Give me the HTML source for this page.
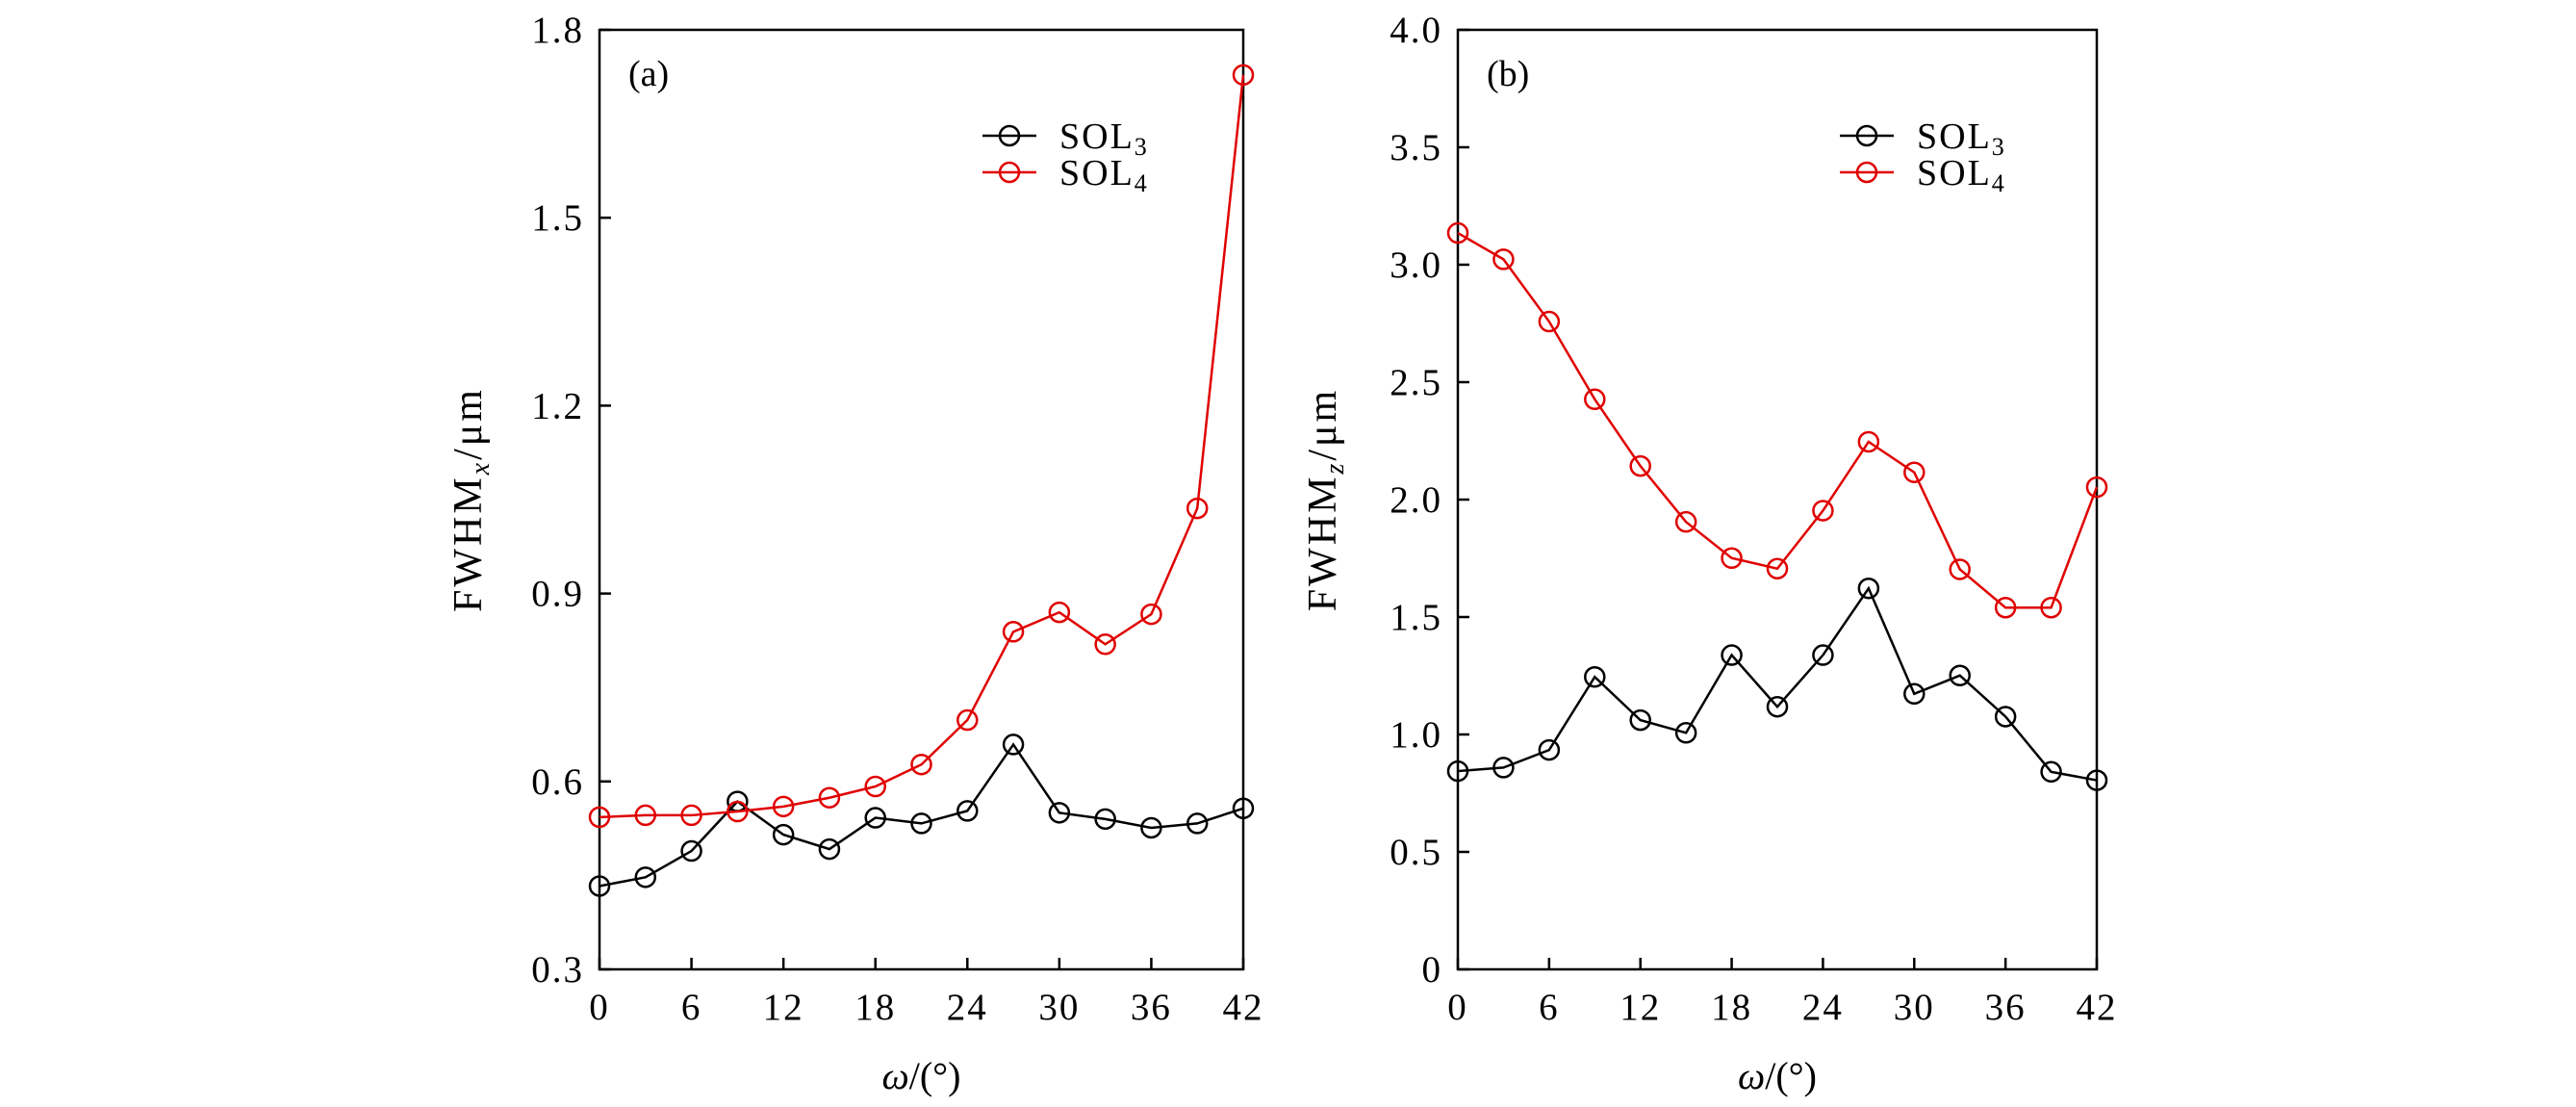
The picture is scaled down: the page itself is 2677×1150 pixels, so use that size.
<!DOCTYPE html>
<html><head><meta charset="utf-8"><style>
html,body{margin:0;padding:0;background:#fff;}
svg{display:block;font-family:"Liberation Serif",serif;}
</style></head><body>
<svg id="chart" width="2677" height="1150" viewBox="0 0 2677 1150" xmlns="http://www.w3.org/2000/svg"></svg>
<script>
const xCats = [0,3,6,9,12,15,18,21,24,27,30,33,36,39,42];
const xTicks = [0,6,12,18,24,30,36,42];
const aSol3 = [0.433,0.447,0.489,0.568,0.515,0.492,0.542,0.533,0.553,0.659,0.550,0.540,0.526,0.533,0.557];
const aSol4 = [0.543,0.546,0.546,0.552,0.560,0.574,0.592,0.627,0.698,0.839,0.870,0.819,0.867,1.036,1.728];
const aTicks = [0.3,0.6,0.9,1.2,1.5,1.8];
const aTickLabels = ["0.3","0.6","0.9","1.2","1.5","1.8"];
const bSol3 = [0.844,0.859,0.934,1.245,1.061,1.007,1.338,1.118,1.338,1.622,1.173,1.251,1.076,0.841,0.805];
const bSol4 = [3.135,3.023,2.758,2.427,2.143,1.905,1.751,1.706,1.953,2.246,2.116,1.703,1.540,1.540,2.053];
const bTicks = [0,0.5,1,1.5,2,2.5,3,3.5,4];
const bTickLabels = ["0","0.5","1.0","1.5","2.0","2.5","3.0","3.5","4.0"];

const NS = "http://www.w3.org/2000/svg";
const svg = document.getElementById('chart');
function mk(tag, attrs, parent){
  const e = document.createElementNS(NS, tag);
  for (const k in attrs) e.setAttribute(k, attrs[k]);
  (parent||svg).appendChild(e);
  return e;
}

function panel(p){
  const g = mk('g', {});
  
  
  const xs = v => p.L + (v - 0) / 42 * (p.R - p.L);
  const ys = v => p.B - (v - p.ymin) / (p.ymax - p.ymin) * (p.B - p.T);
  const frame = mk('rect', {x:p.L, y:p.T, width:p.R-p.L, height:p.B-p.T, fill:'none', stroke:'#000', 'stroke-width':2.5}, g);
  
  
  xTicks.forEach(t => {
    const x = xs(t);
    const tk = mk('line', {x1:x, x2:x, y1:p.B, y2:p.B-12, stroke:'#000', 'stroke-width':2.5}, g);
    
    
    const tl = mk('text', {x:x, y:p.B+52, 'font-size':39, 'letter-spacing':2, 'text-anchor':'middle'}, g);
    tl.textContent = t;
    
    
  });
  p.ticks.forEach((t, i) => {
    const y = ys(t);
    const tk = mk('line', {x1:p.L, x2:p.L+12, y1:y, y2:y, stroke:'#000', 'stroke-width':2.5}, g);
    
    
    const tl = mk('text', {x:p.L-16, y:y+13, 'font-size':39, 'letter-spacing':2, 'text-anchor':'end'}, g);
    tl.textContent = p.tickLabels[i];
    
    
  });
  const xt = mk('text', {x:(p.L+p.R)/2, y:p.B+124, 'font-size':40, 'text-anchor':'middle'}, g);
  xt.innerHTML = '<tspan font-style="italic">ω</tspan>/(°)';
  
  
  const yt = mk('text', {x:0, y:0, 'font-size':42, 'letter-spacing':3, 'text-anchor':'middle', transform:`translate(${p.ytx},${(p.T+p.B)/2}) rotate(-90)`}, g);
  yt.innerHTML = 'FWHM<tspan font-size="28" font-style="italic" dy="8">' + p.sub + '</tspan><tspan dy="-8">/μm</tspan>';
  
  
  const pl = mk('text', {x:p.L+30, y:p.T+58, 'font-size':38}, g);
  pl.textContent = '(' + p.id + ')';
  
  
  [[p.s3,'#000','SOL','3'],[p.s4,'#e00000','SOL','4']].forEach((s, si) => {
    const pts = s[0].map((v,i) => xs(xCats[i]) + ',' + ys(v)).join(' ');
    const line = mk('polyline', {points:pts, fill:'none', stroke:s[1], 'stroke-width':2.5}, g);
    
    
    s[0].forEach((v,i) => {
      const c = mk('circle', {cx:xs(xCats[i]), cy:ys(v), r:10, fill:'none', stroke:s[1], 'stroke-width':2.5}, g);
      
      
    });
    const ly = p.T + 110 + si*38;
    const ll = mk('line', {x1:p.lx, x2:p.lx+56, y1:ly, y2:ly, stroke:s[1], 'stroke-width':2.5}, g);
    
    
    const lc = mk('circle', {cx:p.lx+28, cy:ly, r:10, fill:'none', stroke:s[1], 'stroke-width':2.5}, g);
    
    
    const lt = mk('text', {x:p.lx+80, y:ly+13, 'font-size':38, 'letter-spacing':2}, g);
    lt.innerHTML = s[2] + '<tspan font-size="26" dy="7">' + s[3] + '</tspan>';
    
    
  });
}

panel({id:'a', L:623, R:1292, T:31, B:1007, ymin:0.3, ymax:1.8, ticks:aTicks, tickLabels:aTickLabels, s3:aSol3, s4:aSol4, sub:'x', ytx:500, lx:1021});
panel({id:'b', L:1515, R:2179, T:31, B:1007, ymin:0, ymax:4, ticks:bTicks, tickLabels:bTickLabels, s3:bSol3, s4:bSol4, sub:'z', ytx:1388, lx:1912});
</script>
</body></html>
